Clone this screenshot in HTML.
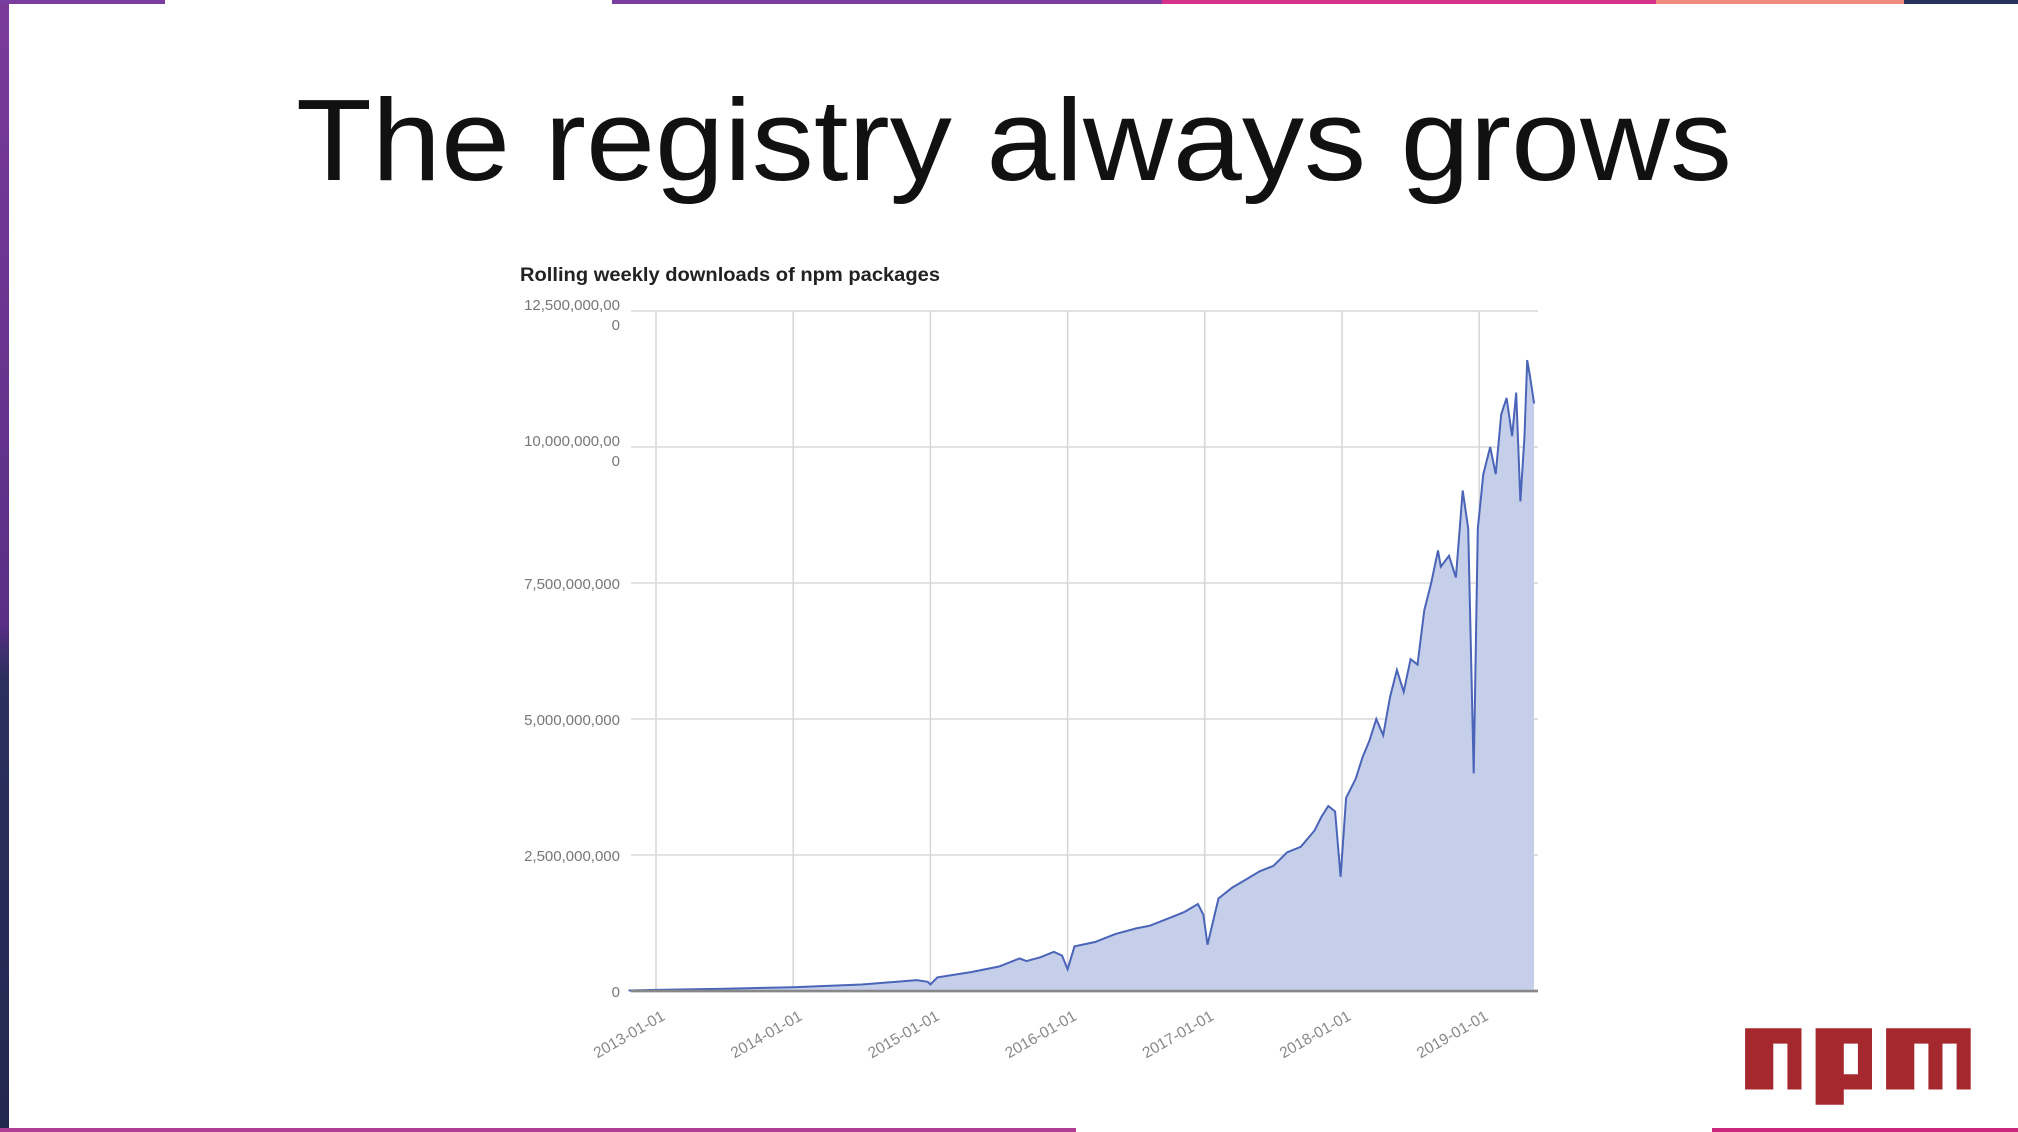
<!DOCTYPE html>
<html><head><meta charset="utf-8">
<style>
html,body{margin:0;padding:0;background:#fff;}
body{width:2018px;height:1132px;overflow:hidden;position:relative;font-family:"Liberation Sans",sans-serif;}
.bar{position:absolute;}
</style></head>
<body>
<div class="bar" style="left:0;top:0;width:9px;height:1132px;background:linear-gradient(#7a3a9a,#5a2f86 55%,#2a2f5e 60%,#23284f)"></div>
<div class="bar" style="left:0;top:0;width:165px;height:4px;background:#7a3ea0"></div>
<div class="bar" style="left:612px;top:0;width:550px;height:4px;background:#7a3ea0"></div>
<div class="bar" style="left:1162px;top:0;width:494px;height:4px;background:#d5318a"></div>
<div class="bar" style="left:1656px;top:0;width:248px;height:4px;background:#ef8b7e"></div>
<div class="bar" style="left:1904px;top:0;width:114px;height:4px;background:#28325e"></div>
<div class="bar" style="left:0;top:1128px;width:1076px;height:4px;background:#b13c94"></div>
<div class="bar" style="left:1712px;top:1128px;width:306px;height:4px;background:#c9287c"></div>

<svg width="2018" height="1132" style="position:absolute;left:0;top:0">
  <text x="296" y="180" font-family="Liberation Sans, sans-serif" font-size="116" fill="#111" textLength="1436" lengthAdjust="spacingAndGlyphs">The registry always grows</text>
  <text x="520" y="281" font-family="Liberation Sans, sans-serif" font-size="19" font-weight="bold" fill="#222" textLength="420" lengthAdjust="spacingAndGlyphs">Rolling weekly downloads of npm packages</text>
  <g id="chart"></g>
  <g transform="translate(1731,1013) scale(14.1,15.3)">
    <title>npm</title>
    <path fill="#a6282f" d="M1,1h4v4h-1v-3h-1v3h-2z M6,1h4v4h-2v1h-2z M8,2v2h1v-2z M11,1h6v4h-1v-3h-1v3h-1v-3h-1v3h-2z"/>
  </g>
</svg>

<script>
const yTicks=[0,2.5,5,7.5,10,12.5];
const yTickLabels=[["0"],["2,500,000,000"],["5,000,000,000"],["7,500,000,000"],["10,000,000,00","0"],["12,500,000,00","0"]];
const xTicks=[2013,2014,2015,2016,2017,2018,2019];
const xTickLabels=["2013-01-01","2014-01-01","2015-01-01","2016-01-01","2017-01-01","2018-01-01","2019-01-01"];
// dates (decimal year) and downloads (billions)
const dates=[2012.8,2013.0,2013.5,2014.0,2014.5,2014.9,2014.98,2015.0,2015.05,2015.3,2015.5,2015.65,2015.7,2015.8,2015.9,2015.96,2016.0,2016.05,2016.2,2016.35,2016.5,2016.6,2016.75,2016.85,2016.95,2016.99,2017.02,2017.1,2017.2,2017.3,2017.4,2017.5,2017.6,2017.7,2017.8,2017.85,2017.9,2017.95,2017.99,2018.03,2018.1,2018.15,2018.2,2018.25,2018.3,2018.35,2018.4,2018.45,2018.5,2018.55,2018.6,2018.65,2018.7,2018.72,2018.78,2018.83,2018.88,2018.92,2018.96,2018.99,2019.03,2019.08,2019.12,2019.16,2019.2,2019.24,2019.27,2019.3,2019.33,2019.35,2019.37,2019.4];
const downloads=[0.01,0.02,0.04,0.07,0.12,0.2,0.17,0.12,0.25,0.35,0.45,0.6,0.55,0.62,0.72,0.65,0.4,0.82,0.9,1.05,1.15,1.2,1.35,1.45,1.6,1.4,0.85,1.7,1.9,2.05,2.2,2.3,2.55,2.65,2.95,3.2,3.4,3.3,2.1,3.55,3.9,4.3,4.6,5.0,4.7,5.4,5.9,5.5,6.1,6.0,7.0,7.5,8.1,7.8,8.0,7.6,9.2,8.5,4.0,8.5,9.5,10.0,9.5,10.6,10.9,10.2,11.0,9.0,10.2,11.6,11.3,10.8];

const NS="http://www.w3.org/2000/svg";
const g=document.getElementById('chart');
const X0=656,XPY=137.2,Y0=991,Y1=311,YMAX=12.5,PL=631,PR=1538;
function xs(d){return X0+(d-2013)*XPY;}
function ys(v){return Y0-(v/YMAX)*(Y0-Y1);}
function mk(tag,attrs){const e=document.createElementNS(NS,tag);for(const k in attrs)e.setAttribute(k,attrs[k]);g.appendChild(e);return e;}

yTicks.forEach((t,i)=>{
  const l=mk('line',{x1:PL,x2:PR,y1:ys(t),y2:ys(t),stroke:t===0?'#888':'#e2e2e2','stroke-width':t===0?2.5:2});
  
  
  const lines=yTickLabels[i];
  lines.forEach((s,j)=>{
    const tx=mk('text',{x:620,y:ys(t)+(lines.length>1?-1:6)+j*20,'text-anchor':'end','font-size':15,fill:'#777','font-family':'Liberation Sans, sans-serif'});
    tx.textContent=s;
    
    
  });
});
xTicks.forEach((t,i)=>{
  const l=mk('line',{x1:xs(t),x2:xs(t),y1:Y1,y2:Y0,stroke:'#d6d6d6','stroke-width':1.5});
  
  
  const tx=mk('text',{x:0,y:0,'text-anchor':'end','font-size':15.5,fill:'#888','font-family':'Liberation Sans, sans-serif',transform:`translate(${xs(t)+10},${Y0+28}) rotate(-30)`});
  tx.textContent=xTickLabels[i];
  
  
});
let pts=dates.map((d,i)=>xs(d).toFixed(1)+','+ys(downloads[i]).toFixed(1));
const area=mk('polygon',{points:xs(dates[0])+','+Y0+' '+pts.join(' ')+' '+xs(dates[dates.length-1])+','+Y0,fill:'#c5cfea'});


const line=mk('polyline',{points:pts.join(' '),fill:'none',stroke:'#4a64b8','stroke-width':2});


const base=mk('line',{x1:PL,x2:PR,y1:Y0,y2:Y0,stroke:'#888','stroke-width':2.5});


</script>
</body></html>
